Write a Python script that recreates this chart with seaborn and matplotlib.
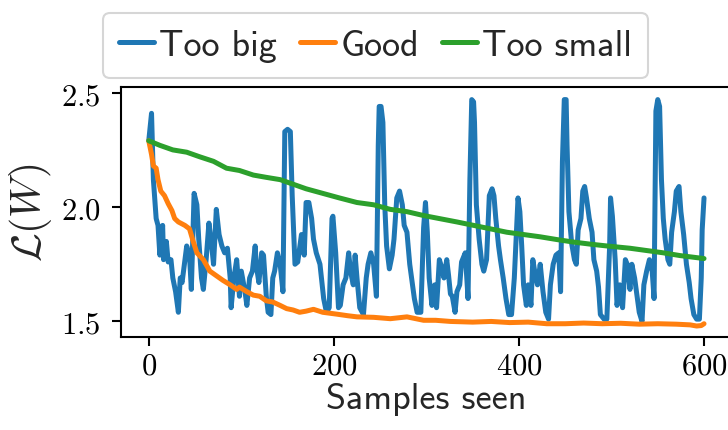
import matplotlib
matplotlib.use("Agg")
import matplotlib.pyplot as plt
from matplotlib.ticker import FuncFormatter, FixedLocator
import seaborn as sns
import pandas as pd

# Training loss per number of samples seen, for three learning rates
big_samples = [0, 3, 5, 8, 10, 12, 15, 16, 19, 21, 24, 26, 29, 32, 34, 36, 41, 44, 46, 49,
               52, 54, 57, 59, 62, 65, 68, 70, 73, 76, 79, 82, 85, 88, 89, 92, 95, 98, 100, 104,
               106, 109, 112, 115, 116, 119, 122, 124, 127, 129, 132, 134, 136, 139, 142, 145, 147, 150, 153, 155,
               158, 161, 165, 168, 170, 173, 176, 178, 181, 185, 189, 192, 195, 198, 199, 202, 205, 207, 210, 213,
               216, 218, 221, 223, 225, 228, 232, 235, 237, 240, 243, 246, 248, 249, 251, 253, 255, 257, 260, 263,
               265, 268, 271, 274, 276, 279, 282, 284, 287, 290, 294, 297, 299, 301, 303, 306, 309, 311, 314, 317,
               319, 322, 324, 326, 328, 331, 333, 336, 338, 342, 345, 347, 349, 351, 352, 354, 357, 360, 362, 365,
               368, 371, 373, 375, 378, 380, 383, 386, 389, 392, 395, 398, 399, 401, 403, 405, 408, 410, 413, 415,
               417, 420, 423, 426, 429, 432, 434, 437, 440, 443, 445, 447, 449, 451, 452, 454, 457, 460, 462, 464,
               467, 469, 471, 473, 476, 479, 481, 484, 486, 488, 492, 495, 498, 499, 501, 504, 506, 509, 512, 515,
               517, 520, 522, 525, 527, 530, 533, 535, 538, 541, 544, 546, 548, 550, 552, 554, 556, 558, 561, 563,
               565, 568, 570, 573, 575, 578, 581, 584, 586, 589, 592, 595, 597, 598, 600]
big_loss = [2.29, 2.41, 2.12, 1.95, 1.92, 1.79, 1.92, 1.77, 1.85, 1.76, 1.77, 1.69, 1.63, 1.54, 1.69, 1.67, 1.83, 1.79, 1.64, 2.06,
            2.01, 1.86, 1.69, 1.64, 1.77, 1.93, 1.83, 1.75, 1.99, 1.88, 1.83, 1.80, 1.82, 1.69, 1.56, 1.69, 1.77, 1.61, 1.72, 1.63,
            1.57, 1.69, 1.72, 1.83, 1.75, 1.67, 1.80, 1.79, 1.61, 1.54, 1.53, 1.69, 1.72, 1.80, 1.75, 1.63, 2.33, 2.34, 2.33, 2.05,
            1.75, 1.76, 1.88, 1.79, 2.02, 2.02, 1.95, 1.86, 1.80, 1.75, 1.60, 1.54, 1.56, 1.95, 1.96, 1.80, 1.56, 1.57, 1.66, 1.69,
            1.80, 1.72, 1.66, 1.79, 1.69, 1.56, 1.53, 1.69, 1.75, 1.80, 1.75, 1.61, 2.27, 2.44, 2.44, 2.37, 2.01, 1.83, 1.73, 1.79,
            1.86, 2.04, 2.07, 2.01, 1.92, 1.89, 1.75, 1.69, 1.60, 1.54, 1.54, 1.91, 2.02, 1.89, 1.69, 1.57, 1.66, 1.56, 1.77, 1.73,
            1.69, 1.77, 1.70, 1.62, 1.61, 1.54, 1.63, 1.66, 1.76, 1.80, 1.60, 2.12, 2.47, 2.46, 2.37, 2.01, 1.86, 1.75, 1.72, 1.77,
            2.05, 2.08, 2.05, 1.95, 1.83, 1.77, 1.69, 1.60, 1.53, 1.53, 1.69, 1.95, 2.04, 1.98, 1.83, 1.66, 1.57, 1.66, 1.57, 1.77,
            1.72, 1.66, 1.75, 1.63, 1.54, 1.51, 1.66, 1.75, 1.79, 1.80, 1.63, 2.20, 2.47, 2.47, 2.27, 1.98, 1.84, 1.77, 1.75, 1.90,
            1.95, 2.07, 2.09, 2.04, 1.95, 1.89, 1.77, 1.72, 1.65, 1.53, 1.51, 1.51, 1.83, 2.04, 1.96, 1.77, 1.57, 1.66, 1.56, 1.77,
            1.75, 1.64, 1.75, 1.69, 1.63, 1.54, 1.50, 1.66, 1.72, 1.77, 1.72, 1.60, 2.42, 2.47, 2.44, 2.12, 1.95, 1.86, 1.77, 1.75,
            1.89, 1.98, 2.07, 2.09, 1.98, 1.88, 1.75, 1.67, 1.60, 1.53, 1.51, 1.51, 1.69, 1.90, 2.04]

good_samples = [0, 3, 5, 8, 10, 13, 17, 21, 25, 28, 32, 39, 44, 48, 52, 59, 66, 73, 80, 88,
                95, 98, 106, 113, 120, 127, 134, 142, 149, 156, 163, 170, 178, 188, 203, 215, 225, 243, 261, 279,
                297, 310, 326, 350, 370, 390, 410, 430, 450, 470, 490, 510, 530, 550, 570, 585, 592, 597, 600]
good_loss = [2.29, 2.23, 2.18, 2.17, 2.12, 2.07, 2.05, 2.015, 1.985, 1.95, 1.935, 1.92, 1.905, 1.85, 1.80, 1.77, 1.72, 1.70, 1.68, 1.66,
             1.64, 1.65, 1.63, 1.615, 1.61, 1.59, 1.585, 1.57, 1.556, 1.55, 1.54, 1.545, 1.553, 1.54, 1.532, 1.525, 1.52, 1.518, 1.512, 1.52,
             1.505, 1.505, 1.50, 1.497, 1.50, 1.495, 1.497, 1.49, 1.49, 1.493, 1.49, 1.492, 1.488, 1.49, 1.488, 1.485, 1.48, 1.482, 1.49]

small_samples = [0, 12, 26, 41, 55, 70, 84, 98, 113, 127, 142, 156, 170, 188, 206, 225, 243, 261, 279, 297,
                 315, 333, 351, 369, 387, 405, 423, 441, 459, 477, 495, 520, 538, 556, 574, 590, 600]
small_loss = [2.29, 2.27, 2.25, 2.24, 2.22, 2.20, 2.17, 2.16, 2.14, 2.13, 2.12, 2.10, 2.08, 2.06, 2.04, 2.02, 2.01, 1.99, 1.98, 1.963,
              1.949, 1.935, 1.92, 1.905, 1.89, 1.88, 1.87, 1.858, 1.847, 1.838, 1.83, 1.82, 1.81, 1.80, 1.788, 1.78, 1.775]

series_names = ["Too big", "Good", "Too small"]
x_ticks = [0, 200, 400, 600]
y_ticks = [1.5, 2.0, 2.5]

sns.set_style("ticks")
plt.rcParams["mathtext.fontset"] = "cm"
plt.rcParams["axes.edgecolor"] = "black"
plt.rcParams["xtick.color"] = "black"
plt.rcParams["ytick.color"] = "black"

df = pd.concat([
    pd.DataFrame({"samples": big_samples, "loss": big_loss, "rate": series_names[0]}),
    pd.DataFrame({"samples": good_samples, "loss": good_loss, "rate": series_names[1]}),
    pd.DataFrame({"samples": small_samples, "loss": small_loss, "rate": series_names[2]}),
], ignore_index=True)

fig = plt.figure(figsize=(7.28, 4.31), dpi=100)
ax = fig.add_axes([0.1662, 0.2158, 0.839, 0.580])

palette = {"Too big": "#1f77b4", "Good": "#ff7f0e", "Too small": "#2ca02c"}
lw = 3.6
sns.lineplot(data=df, x="samples", y="loss", hue="rate", hue_order=series_names,
             palette=palette, linewidth=lw, ax=ax, estimator=None, sort=False)

ax.set_xlim(-30, 630)
ax.set_ylim(1.432, 2.525)
ax.xaxis.set_major_locator(FixedLocator(x_ticks))
ax.yaxis.set_major_locator(FixedLocator(y_ticks))
ax.xaxis.set_major_formatter(FuncFormatter(lambda v, p: f"${v:.0f}$"))
ax.yaxis.set_major_formatter(FuncFormatter(lambda v, p: f"${v:.1f}$"))
ax.tick_params(axis="both", labelsize=22, length=6.5, width=1.5, direction="out")
ax.tick_params(axis="x", pad=3)
ax.tick_params(axis="y", pad=8)
for sp in ax.spines.values():
    sp.set_linewidth(1.5)

ax.set_xlabel("Samples seen", fontsize=26, fontfamily="cmss10", labelpad=2)
ax.set_ylabel(r"$\mathcal{L}(W)$", fontsize=30, labelpad=5)

ax.legend_.remove()
handles, labels = ax.get_legend_handles_labels()
leg = fig.legend(handles, labels, loc="upper center", bbox_to_anchor=(0.516, 0.985),
                 ncol=3, frameon=True, fancybox=True, handlelength=0.95, handletextpad=0.15,
                 columnspacing=0.65, borderpad=0.45, borderaxespad=0.2,
                 prop={"family": "cmss10", "size": 26})
leg.get_frame().set_edgecolor("#cccccc")
leg.get_frame().set_linewidth(1.5)
for line in leg.get_lines():
    line.set_linewidth(lw)

fig.savefig("out.png", dpi=100)
